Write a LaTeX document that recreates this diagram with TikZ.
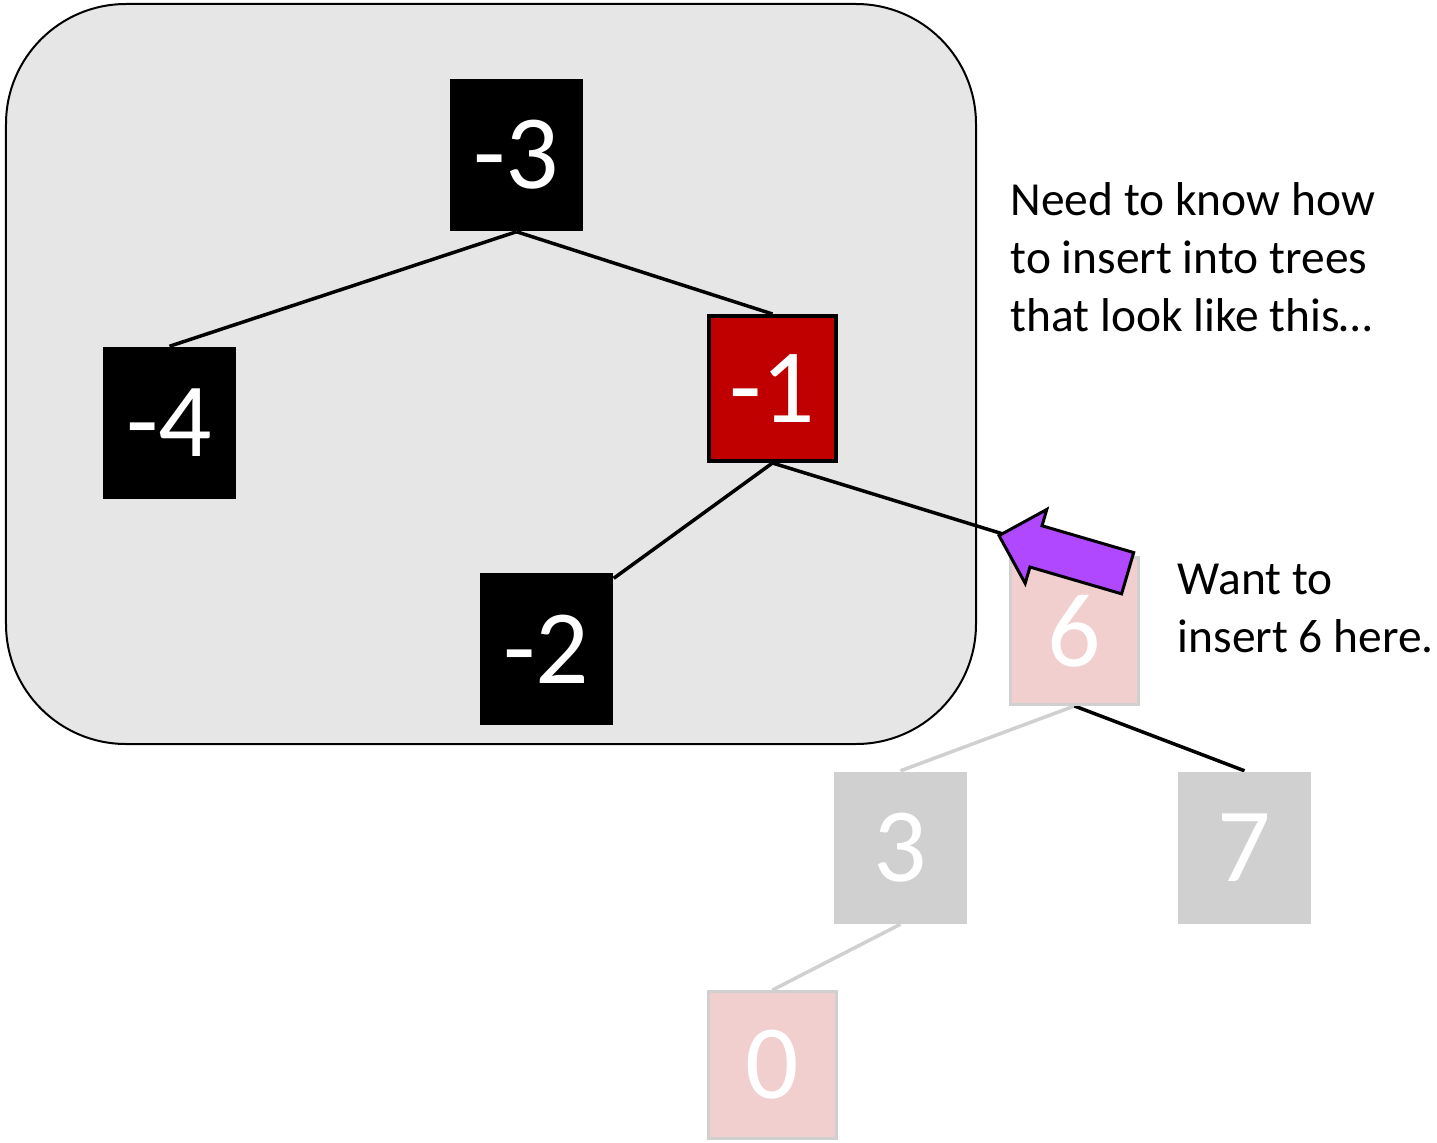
\documentclass[tikz,border=0pt]{standalone}
\usepackage{fontspec}
\setmainfont{Carlito}
\usetikzlibrary{shapes.arrows, backgrounds}
\definecolor{BoxGray}{HTML}{E6E6E6}
\definecolor{FadeGray}{HTML}{D0D0D0}
\definecolor{KeyRed}{HTML}{C00000}
\definecolor{SoftPink}{HTML}{F2CFCF}
\definecolor{ArrowPurple}{HTML}{B048FF}
\tikzset{
  keybox/.style={fill=black, text=white, minimum width=1.33cm, minimum height=1.52cm, inner sep=0pt, font=\fontsize{30}{30}\selectfont},
  redkey/.style={keybox, fill=KeyRed, draw=black, line width=0.04cm, minimum width=1.27cm, minimum height=1.45cm},
  pinkkey/.style={keybox, fill=SoftPink, draw=FadeGray, line width=0.03cm, minimum width=1.28cm, minimum height=1.47cm},
  graykey/.style={keybox, fill=FadeGray},
  edge/.style={line width=0.035cm, draw=black},
  fadeedge/.style={line width=0.035cm, draw=FadeGray},
  pusharrow/.style={single arrow, fill=ArrowPurple, draw=black, line width=0.03cm, minimum height=1.34cm, minimum width=0cm, inner xsep=0pt, inner ysep=0.2cm, single arrow head extend=0.17cm},
  note/.style={align=left, anchor=north west, inner sep=0pt, font=\fontsize{13.5}{16.5}\selectfont}
}
\begin{document}
\begin{tikzpicture}
\useasboundingbox (0,0) rectangle (14.37,11.42);
% left part: the tree to handle
\node[keybox] (m3) at (5.165,9.87) {-3};
\node[keybox] (m4) at (1.695,7.19) {-4};
\node[redkey] (m1) at (7.725,7.535) {-1};
\node[keybox] (m2) at (5.465,4.93) {-2};
% right part: the faded subtree
\node[pinkkey] (k6) at (10.745,5.11) {6};
\node[graykey] (k3) at (9.005,2.945) {3};
\node[graykey] (k7) at (12.445,2.945) {7};
\node[pinkkey] (k0) at (7.725,0.77) {0};
\begin{scope}[on background layer]
\draw[fill=BoxGray, draw=black, line width=0.02cm, rounded corners=1.2cm] (0.06,11.38) rectangle (9.76,3.98);
\draw[edge] (m3.south) -- (m4.north);
\draw[edge] (m3.south) -- (m1.north);
\draw[edge] (m1.south) -- ([yshift=-0.06cm]m2.north east);
\draw[edge] (m1.south) -- (k6.north);
\draw[fadeedge] (k6.south) -- (k3.north);
\draw[edge] (k6.south) -- (k7.north);
\draw[fadeedge] (k3.south) -- (k0.north);
\end{scope}
\node[pusharrow, rotate=163.7, anchor=tip] (push) at (9.97,6.07) {};
\node[note] (need) at (10.1,9.6) {Need to know how\\to insert into trees\\that look like this…};
\node[note] (want) at (11.77,5.79) {Want to\\insert 6 here.};
\end{tikzpicture}
\end{document}
